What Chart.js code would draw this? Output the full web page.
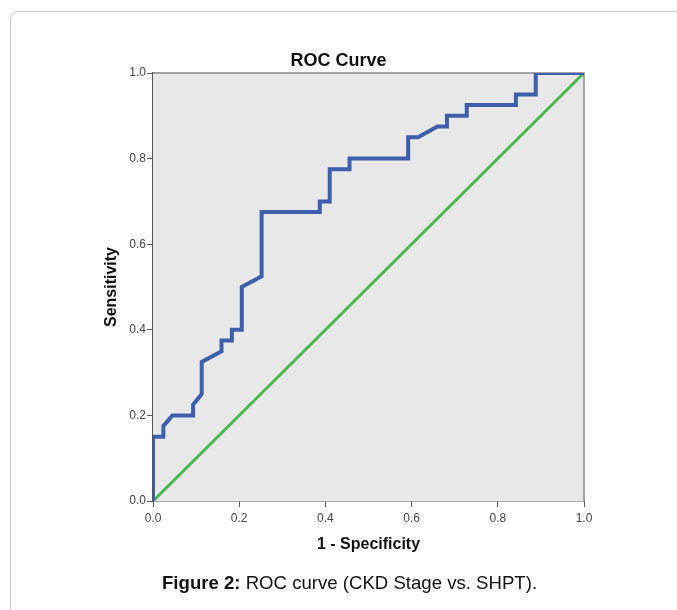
<!DOCTYPE html>
<html>
<head>
<meta charset="utf-8">
<script src="https://cdn.jsdelivr.net/npm/chart.js@4.4.1/dist/chart.umd.min.js"></script>
<style>
  body { margin: 0; background: #fff; font-family: "Liberation Sans", Arial, sans-serif; }
  #card { position: absolute; left: 10px; top: 11px; width: 720px; height: 700px;
          border: 1px solid #c8c8c8; border-radius: 8px; }
  #wrap { position: absolute; left: 0; top: 0; width: 677px; height: 610px; }
  #caption { position: absolute; left: 162px; top: 574px; font-size: 18.6px; line-height: 1;
             color: #111; white-space: nowrap; }
</style>
</head>
<body>
<div id="card"></div>
<div id="wrap"><canvas id="roc"></canvas></div>
<div id="caption"><b>Figure 2:</b> ROC curve (CKD Stage vs. SHPT).</div>
<script>
// ROC steps: 1 - specificity and sensitivity
var fpr  = [0, 0, 0.024, 0.024, 0.045, 0.093, 0.093, 0.113, 0.113, 0.159, 0.159, 0.183, 0.183,
            0.206, 0.206, 0.252, 0.252, 0.387, 0.387, 0.41, 0.41, 0.456, 0.456, 0.592, 0.592,
            0.615, 0.66, 0.682, 0.682, 0.728, 0.728, 0.842, 0.842, 0.888, 0.888, 1];
var sens = [0, 0.15, 0.15, 0.175, 0.2, 0.2, 0.225, 0.25, 0.325, 0.35, 0.375, 0.375, 0.4,
            0.4, 0.5, 0.525, 0.675, 0.675, 0.7, 0.7, 0.775, 0.775, 0.8, 0.8, 0.85,
            0.85, 0.875, 0.875, 0.9, 0.9, 0.925, 0.925, 0.95, 0.95, 1, 1];
// reference line
var refX = [0, 1];
var refY = [0, 1];
var tickValues = [0, 0.2, 0.4, 0.6, 0.8, 1.0];

var rocPoints = fpr.map(function (x, i) { return { x: x, y: sens[i] }; });
var refPoints = refX.map(function (x, i) { return { x: x, y: refY[i] }; });

// grey plot background and the light top/right frame
var plotFrame = {
    id: 'plotFrame',
    beforeDatasetsDraw: function (chart) {
        var a = chart.chartArea, ctx = chart.ctx;
        ctx.save();
        ctx.fillStyle = '#e8e8e8';
        ctx.fillRect(a.left, a.top, a.right - a.left, a.bottom - a.top);
        ctx.strokeStyle = '#8a8a8a';
        ctx.lineWidth = 1.5;
        ctx.beginPath();
        ctx.moveTo(a.left, a.top);
        ctx.lineTo(a.right, a.top);
        ctx.lineTo(a.right, a.bottom);
        ctx.stroke();
        ctx.restore();
    }
};

var fam = '"Liberation Sans", Arial, sans-serif';
var axisGrid = { drawOnChartArea: false, drawTicks: true, tickLength: 6, color: '#555', lineWidth: 1 };
var tickFont = { family: fam, size: 12 };
var titleFont = { family: fam, size: 16, weight: 'bold' };
var fixedTicks = function (s) { s.ticks = tickValues.map(function (v) { return { value: v }; }); };
var fmt = function (v) { return v.toFixed(1); };

Chart.defaults.animation = false;
new Chart(document.getElementById('roc'), {
    type: 'scatter',
    data: {
        datasets: [{
            data: refPoints,
            showLine: true,
            borderColor: '#4cb74f',
            borderWidth: 3,
            pointRadius: 0,
            order: 2
        }, {
            data: rocPoints,
            showLine: true,
            borderColor: '#3f5eab',
            borderWidth: 4,
            borderJoinStyle: 'miter',
            pointRadius: 0,
            order: 1
        }]
    },
    options: {
        responsive: true,
        maintainAspectRatio: false,
        layout: { padding: 0 },
        plugins: {
            legend: { display: false },
            tooltip: { enabled: false },
            title: {
                display: true,
                text: 'ROC Curve',
                color: '#111',
                font: { family: fam, size: 18, weight: 'bold' },
                padding: { top: 50.5, bottom: 0.9 }
            }
        },
        scales: {
            x: {
                type: 'linear',
                min: 0, max: 1,
                afterBuildTicks: fixedTicks,
                afterFit: function (s) { s.height = 109; },
                ticks: { color: '#444', font: tickFont, padding: 4, callback: fmt },
                grid: axisGrid,
                border: { display: true, color: '#555', width: 1.5 },
                title: { display: true, text: '1 - Specificity', color: '#111', font: titleFont,
                         padding: { top: 0, bottom: 55.5 } }
            },
            y: {
                type: 'linear',
                min: 0, max: 1,
                afterBuildTicks: fixedTicks,
                afterFit: function (s) { s.width = 153; },
                ticks: { color: '#444', font: tickFont, padding: 1, callback: fmt },
                grid: axisGrid,
                border: { display: true, color: '#555', width: 1.5 },
                title: { display: true, text: 'Sensitivity', color: '#111', font: titleFont,
                         padding: { top: 101.5, bottom: 0 } }
            },
            // empty right-hand strip so the title centres on the whole figure
            yRight: {
                type: 'linear',
                position: 'right',
                min: 0, max: 1,
                afterFit: function (s) { s.width = 93; },
                ticks: { display: false },
                grid: { display: false },
                border: { display: false }
            }
        }
    },
    plugins: [plotFrame]
});
</script>
</body>
</html>
